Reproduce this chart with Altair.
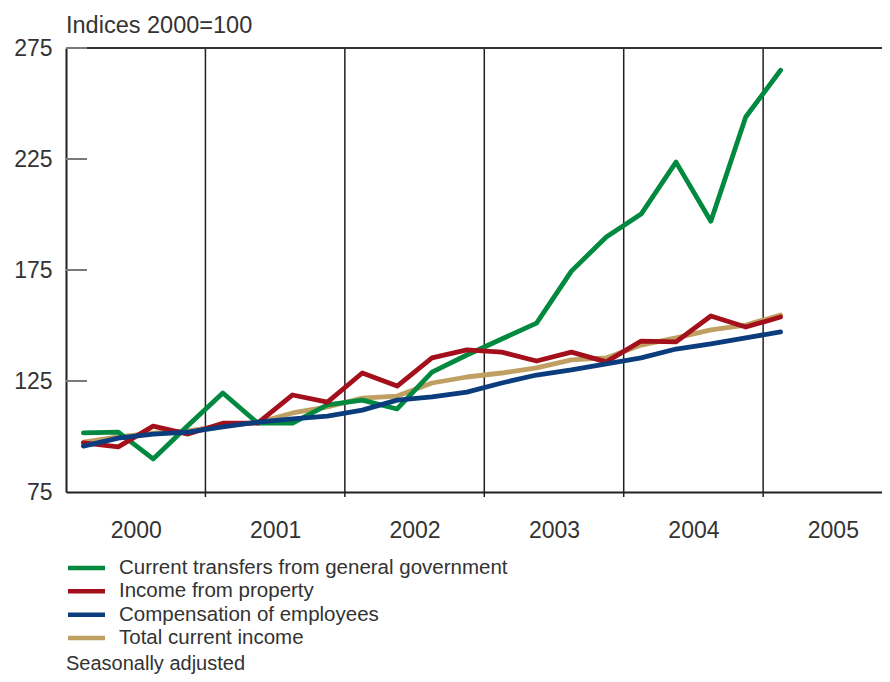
import altair as alt
import pandas as pd

# Quarterly, 2000Q1 .. 2005Q1 (index 0..20)
quarters = list(range(21))
transfers = [101.6, 102.0, 89.9, 105.0, 119.6, 106.0, 106.0, 114.2, 116.4, 112.4, 129.0,
             136.7, 143.9, 151.1, 174.5, 189.9, 200.2, 223.6, 197.0, 243.9, 265.0]
property_income = [97.1, 95.3, 104.7, 101.1, 106.0, 106.0, 118.7, 115.5, 128.6, 122.7, 135.4,
                   139.0, 138.0, 134.0, 138.0, 133.6, 143.0, 142.6, 154.3, 149.3, 153.8]
compensation = [95.7, 99.3, 101.1, 102.0, 104.3, 106.5, 107.9, 109.2, 111.9, 116.4, 117.8,
                120.0, 124.1, 127.7, 130.0, 132.7, 135.4, 139.4, 141.7, 144.4, 147.1]
total = [97.5, 99.8, 101.5, 102.5, 104.8, 106.3, 110.6, 113.3, 117.3, 118.2, 124.1,
         126.8, 128.6, 130.9, 134.5, 135.4, 141.2, 144.4, 148.0, 150.2, 154.7]

series_names = ["Current transfers from general government", "Income from property",
                "Compensation of employees", "Total current income"]
series_colors = ["#00893F", "#A3101B", "#0B3C7D", "#BF9F62"]
year_labels = ["2000", "2001", "2002", "2003", "2004", "2005"]
year_label_pos = [2, 6, 10, 14, 18, 22]
year_bounds = [4, 8, 12, 16, 20]
y_ticks = [75, 125, 175, 225, 275]
inner_ticks = [125, 175, 225, 275]
title_text = "Indices 2000=100"
note_text = "Seasonally adjusted"

FONT = "Liberation Sans"
TXT = "#333333"
PLOT_W = 816
PLOT_H = 444

rows = []
for name, vals in zip(series_names, [transfers, property_income, compensation, total]):
    for q, v in zip(quarters, vals):
        rows.append({"series": name, "q": q + 0.5, "value": v})
df = pd.DataFrame(rows)

label_expr = "{" + ",".join(f"'{p}':'{l}'" for p, l in zip(year_label_pos, year_labels)) + "}[datum.value]"

x_enc = alt.X("q:Q", scale=alt.Scale(domain=[0, 23.41], nice=False, zero=False),
              axis=alt.Axis(values=year_label_pos, labelExpr=label_expr, ticks=False,
                            grid=False, labelPadding=27, title=None))
y_enc = alt.Y("value:Q", scale=alt.Scale(domain=[75, 275], nice=False, zero=False),
              axis=alt.Axis(values=y_ticks, ticks=False, grid=False, labelPadding=14, title=None))
color = alt.Color("series:N", scale=alt.Scale(domain=series_names, range=series_colors), legend=None)

bounds_df = pd.DataFrame({"q": year_bounds})
vrules = alt.Chart(bounds_df).mark_rule(color="#231f20", strokeWidth=1.5).encode(
    x=x_enc, y=alt.value(0), y2=alt.value(PLOT_H + 5))

top_border = alt.Chart(bounds_df).mark_rule(color="#333333", strokeWidth=2).encode(
    x=alt.value(0), x2=alt.value(PLOT_W), y=alt.value(0))

ticks_df = pd.DataFrame({"value": inner_ticks})
inner = alt.Chart(ticks_df).mark_rule(color="#7a7a7a", strokeWidth=2).encode(
    x=alt.value(0), x2=alt.value(21), y=y_enc)

draw_order = [3, 0, 1, 2]
lines = []
for k in draw_order:
    lines.append(
        alt.Chart(df).transform_filter(alt.datum.series == series_names[k])
        .mark_line(strokeWidth=4.8, strokeCap="round", strokeJoin="round")
        .encode(x=x_enc, y=y_enc, color=color)
    )

title = alt.Chart(pd.DataFrame({"t": [title_text]})).mark_text(
    align="left", baseline="alphabetic", font=FONT, fontSize=23.5, color=TXT).encode(
    text="t:N", x=alt.value(0), y=alt.value(-15))

note = alt.Chart(pd.DataFrame({"t": [note_text]})).mark_text(
    align="left", baseline="alphabetic", font=FONT, fontSize=20, color=TXT).encode(
    text="t:N", x=alt.value(0), y=alt.value(622))

main = alt.layer(vrules, top_border, inner, *lines, title, note)

legend_df = pd.DataFrame({"series": series_names})
legend_y = alt.Y("series:N", scale=alt.Scale(type="point", domain=series_names,
                                             range=[520, 590], padding=0), axis=None)
leg_rules = alt.Chart(legend_df).mark_rule(strokeWidth=4.5).encode(
    x=alt.value(2), x2=alt.value(39), y=legend_y, color=color)
leg_text = alt.Chart(legend_df).mark_text(
    align="left", baseline="middle", font=FONT, fontSize=20.5, color=TXT).encode(
    x=alt.value(53), y=legend_y, text="series:N")
legend = alt.layer(leg_rules, leg_text)

chart = alt.layer(main, legend).resolve_scale(y="independent").properties(
    width=PLOT_W, height=PLOT_H,
    autosize=alt.AutoSizeParams(type="none"),
    padding={"left": 58, "top": 40, "right": 0, "bottom": 182},
).configure_view(strokeWidth=0).configure_axis(
    domainColor="#231f20", domainWidth=2, labelFont=FONT, labelFontSize=23,
    labelColor=TXT,
)

chart.save("out.html", embed_options={"renderer": "svg", "actions": False})
